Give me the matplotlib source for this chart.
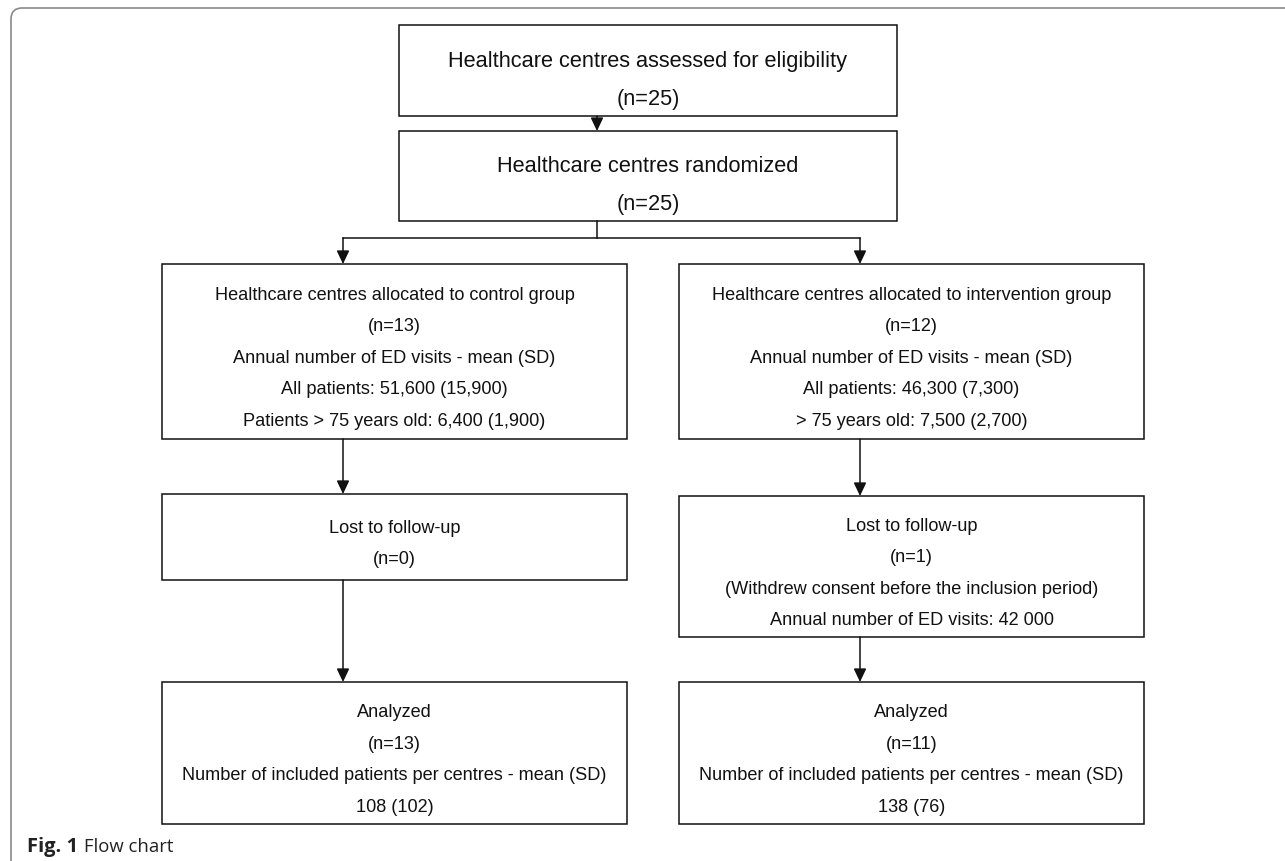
import matplotlib.pyplot as plt
from matplotlib.patches import Rectangle
from matplotlib.path import Path
from matplotlib.patches import PathPatch

# box texts
eligibility_lines = ["Healthcare centres assessed for eligibility", "(n=25)"]
randomized_lines = ["Healthcare centres randomized", "(n=25)"]
control_lines = ["Healthcare centres allocated to control group", "(n=13)",
                 "Annual number of ED visits - mean (SD)",
                 "All patients: 51,600 (15,900)",
                 "Patients > 75 years old: 6,400 (1,900)"]
intervention_lines = ["Healthcare centres allocated to intervention group", "(n=12)",
                      "Annual number of ED visits - mean (SD)",
                      "All patients: 46,300 (7,300)",
                      "> 75 years old: 7,500 (2,700)"]
lost_control_lines = ["Lost to follow-up", "(n=0)"]
lost_intervention_lines = ["Lost to follow-up", "(n=1)",
                           "(Withdrew consent before the inclusion period)",
                           "Annual number of ED visits: 42 000"]
analyzed_control_lines = ["Analyzed", "(n=13)",
                          "Number of included patients per centres - mean (SD)",
                          "108 (102)"]
analyzed_intervention_lines = ["Analyzed", "(n=11)",
                               "Number of included patients per centres - mean (SD)",
                               "138 (76)"]
caption_bold = "Fig. 1"
caption_text = "Flow chart"

W, H = 1285, 862
fig = plt.figure(figsize=(W / 100, H / 100), dpi=100)
ax = fig.add_axes([0, 0, 1, 1])
ax.set_xlim(0, W)
ax.set_ylim(H, 0)
ax.axis("off")

FONT = ["Liberation Sans", "DejaVu Sans"]
LW = 1.1


def box(x0, x1, y0, y1, lines, size, spacing, offset):
    ax.add_patch(Rectangle((x0, y0), x1 - x0, y1 - y0, fill=False,
                           edgecolor="#111111", linewidth=LW))
    cx = (x0 + x1) / 2
    cy = (y0 + y1) / 2 + offset
    n = len(lines)
    for i, t in enumerate(lines):
        y = cy + (i - (n - 1) / 2) * spacing
        ax.text(cx, y, t, ha="center", va="center", fontsize=size,
                family=FONT, color="#111111")


def arrow(x, y0, y1):
    ax.annotate("", xy=(x, y1), xytext=(x, y0),
                arrowprops=dict(arrowstyle="-|>,head_length=0.8,head_width=0.38",
                                mutation_scale=10, color="#111111", lw=LW,
                                shrinkA=0, shrinkB=0))


# outer frame with rounded top-left corner
r = 11
verts = [(11, H), (11, 9 + r), (11, 9), (11 + r, 9), (W, 9)]
codes = [Path.MOVETO, Path.LINETO, Path.CURVE3, Path.CURVE3, Path.LINETO]
ax.add_patch(PathPatch(Path(verts, codes), fill=False, edgecolor="#8a8a8a", lw=1.2))

# boxes
box(399, 897, 26, 117, eligibility_lines, 15.7, 37, 9)
box(399, 897, 132, 222, randomized_lines, 15.7, 38, 9)
box(162, 627, 265, 440, control_lines, 13.1, 31.5, 6)
box(679, 1144, 265, 440, intervention_lines, 13.1, 31.5, 6)
box(162, 627, 495, 581, lost_control_lines, 13.1, 31.5, 6)
box(679, 1144, 497, 638, lost_intervention_lines, 13.1, 31.5, 6)
box(162, 627, 683, 825, analyzed_control_lines, 13.1, 31.5, 6)
box(679, 1144, 683, 825, analyzed_intervention_lines, 13.1, 31.5, 6)

# connectors
arrow(597, 117, 132)
ax.plot([597, 597], [222, 239], color="#111111", lw=LW)
ax.plot([343, 860], [239, 239], color="#111111", lw=LW)
arrow(343, 239, 265)
arrow(860, 239, 265)
arrow(343, 440, 495)
arrow(860, 440, 497)
arrow(343, 581, 683)
arrow(860, 638, 683)

# caption
cap_font = ["Open Sans", "DejaVu Sans"]
cap = ax.text(27, 847, caption_bold, ha="left", va="center", fontsize=14.5,
              family=cap_font, fontweight="bold", color="#222222")
fig.canvas.draw()
bb = cap.get_window_extent().transformed(ax.transData.inverted())
ax.text(bb.x1 + 6, 847, caption_text, ha="left", va="center", fontsize=13.3,
        family=cap_font, color="#222222")

fig.savefig("out.png", dpi=100)
